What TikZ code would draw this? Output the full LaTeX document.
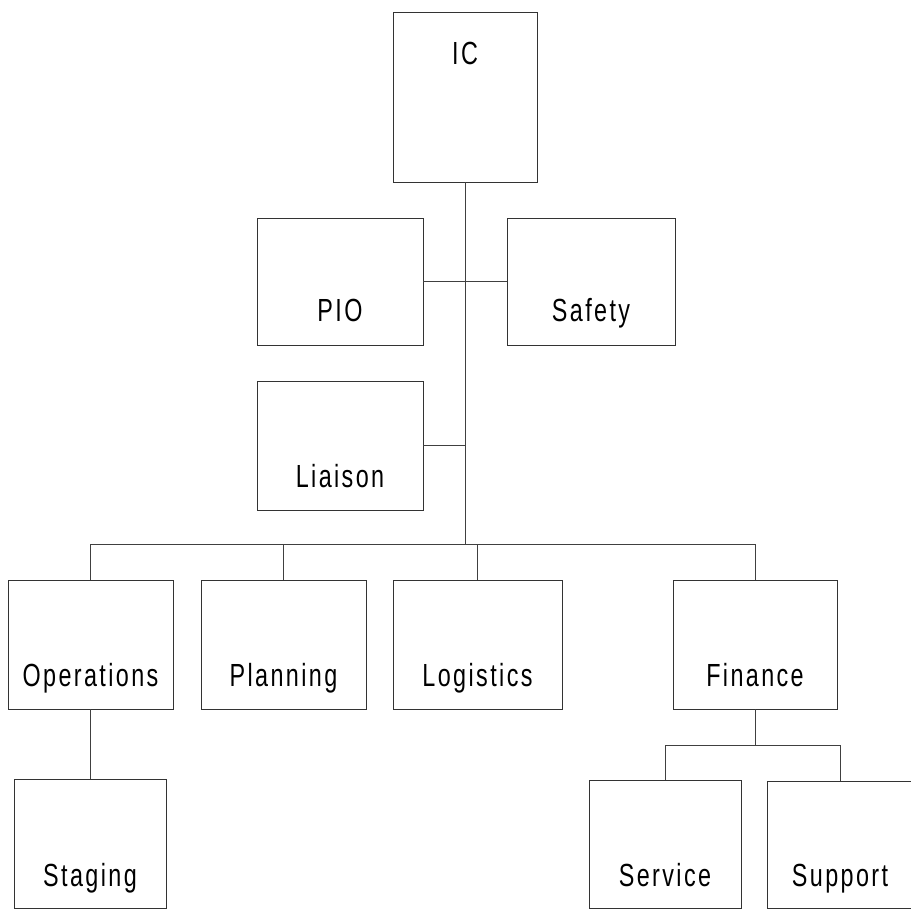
\documentclass[tikz,border=0pt]{standalone}
\usepackage{fontspec}
\newfontfamily\orgfont{Liberation Sans}[FakeStretch=0.73,LetterSpace=7.5]
\usepackage{tikz}
\usetikzlibrary{calc}

\tikzset{
    orgbox/.style n args={3}{draw=black!80, line width=0.9pt, rectangle, inner sep=0pt,
        minimum width=#1, text height=#2, text depth=#3,
        font=\orgfont\fontsize{32}{38}\selectfont},
    orgline/.style={draw=black!75, line width=0.9pt}
}

\begin{document}
\begin{tikzpicture}[x=1pt,y=-1pt]
    \useasboundingbox (0,0) rectangle (911,909);
    \node[orgbox={144pt}{53pt}{117pt}] (IC) at (465,97) {IC};
    \node[orgbox={166pt}{104pt}{23pt}] (PIO) at (340,281.5) {PIO};
    \node[orgbox={168pt}{104pt}{23pt}] (Safety) at (591,281.5) {Safety};
    \node[orgbox={166pt}{106pt}{23pt}] (Liaison) at (340,445.5) {Liaison};
    \node[orgbox={165pt}{106pt}{23pt}] (Operations) at (90.5,644.5) {Operations};
    \node[orgbox={165pt}{106pt}{23pt}] (Planning) at (283.5,644.5) {Planning};
    \node[orgbox={169pt}{106pt}{23pt}] (Logistics) at (477.5,644.5) {Logistics};
    \node[orgbox={164pt}{106pt}{23pt}] (Finance) at (755,644.5) {Finance};
    \node[orgbox={152pt}{107pt}{22pt}] (Staging) at (90,843.5) {Staging};
    \node[orgbox={152pt}{106pt}{22pt}] (Service) at (665,844) {Service};
    \node[orgbox={146pt}{105pt}{22pt}] (Support) at (840,844.5) {Support};
    \coordinate (bar) at (0,544);
    \coordinate (fbar) at (0,745);
    \draw[orgline] (IC.south) -- (IC.south |- bar);
    \draw[orgline] (PIO.east) -- (Safety.west);
    \draw[orgline] (Liaison.east) -- (Liaison.east -| IC.south);
    \draw[orgline] (Operations.north) -- (Operations.north |- bar) -- (Finance.north |- bar) -- (Finance.north);
    \foreach \n in {Planning, Logistics} \draw[orgline] (\n.north) -- (\n.north |- bar);
    \draw[orgline] (Operations.south) -- (Operations.south |- Staging.north);
    \draw[orgline] (Finance.south) -- (Finance.south |- fbar);
    \draw[orgline] (Service.north) -- (Service.north |- fbar) -- (Support.north |- fbar) -- (Support.north);
\end{tikzpicture}
\end{document}
